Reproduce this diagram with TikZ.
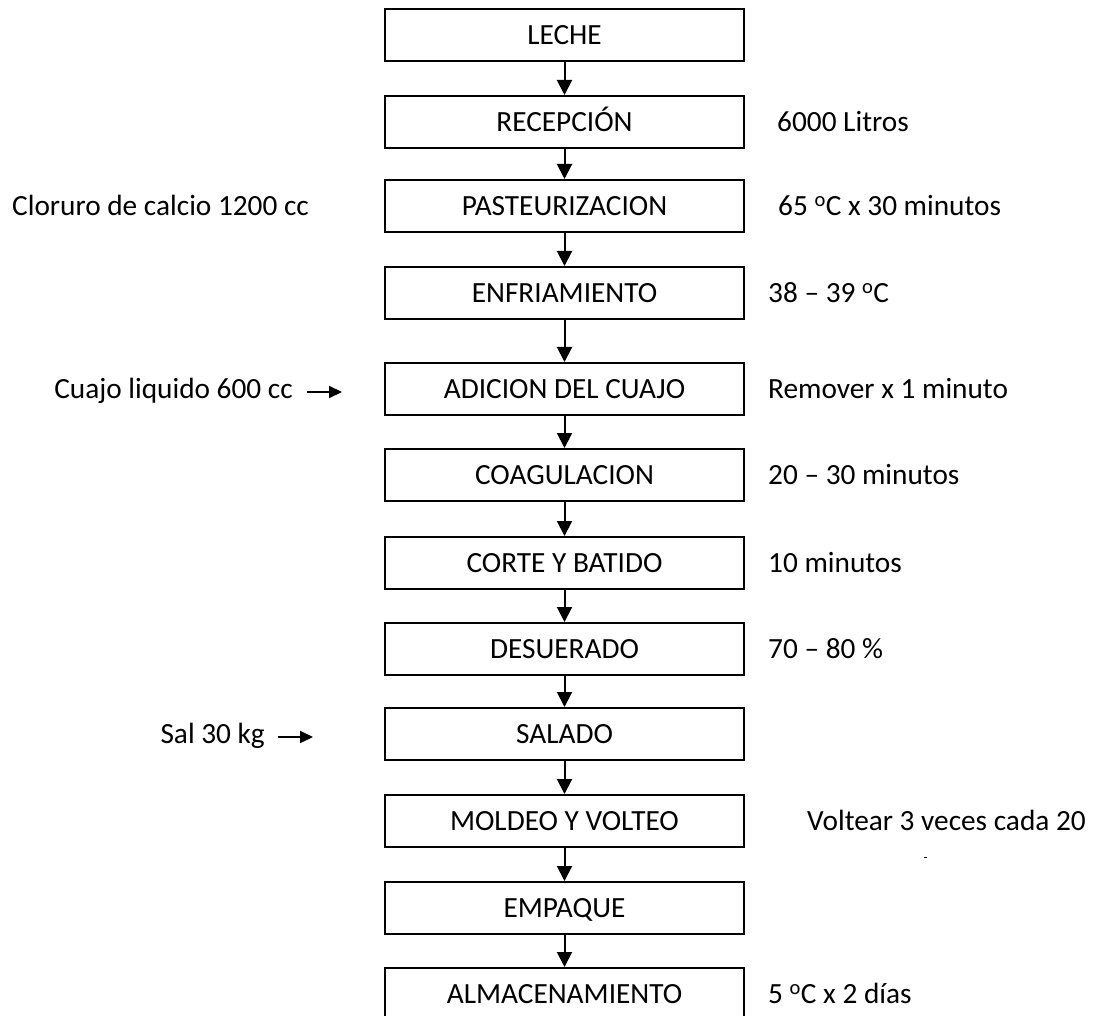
\documentclass[tikz,border=0pt]{standalone}
\usepackage{fontspec}
\setmainfont{Carlito}
\usetikzlibrary{arrows.meta}
\tikzset{
  x=1pt,y=-1pt,
  every node/.style={font=\fontsize{29.3}{34}\selectfont, text height=18.9pt, text depth=0pt, inner sep=0pt},
  stepbox/.style={draw, line width=2pt, minimum width=359pt, minimum height=52pt, anchor=center},
  sidelabel/.style={anchor=west},
  leftlabel/.style={anchor=east},
  flow/.style={line width=2pt, -{Triangle[width=15pt,length=15pt]}},
  feed/.style={line width=2pt, -{Triangle[width=12pt,length=13pt]}}
}
\begin{document}
\begin{tikzpicture}
\useasboundingbox (0,0) rectangle (1093,1016);
\clip (0,0) rectangle (1093,1016);
% main boxes
\node[stepbox] (b1)  at (564.5,35)  {LECHE};
\node[stepbox] (b2)  at (564.5,122) {RECEPCIÓN};
\node[stepbox] (b3)  at (564.5,206) {PASTEURIZACION};
\node[stepbox] (b4)  at (564.5,293) {ENFRIAMIENTO};
\node[stepbox] (b5)  at (564.5,389) {ADICION DEL CUAJO};
\node[stepbox] (b6)  at (564.5,475) {COAGULACION};
\node[stepbox] (b7)  at (564.5,563) {CORTE Y BATIDO};
\node[stepbox] (b8)  at (564.5,649) {DESUERADO};
\node[stepbox] (b9)  at (564.5,734) {SALADO};
\node[stepbox] (b10) at (564.5,821) {MOLDEO Y VOLTEO};
\node[stepbox] (b11) at (564.5,908) {EMPAQUE};
\node[stepbox] (b12) at (564.5,994) {ALMACENAMIENTO};
% vertical arrows
\foreach \a/\b in {b1/b2,b2/b3,b3/b4,b4/b5,b5/b6,b6/b7,b7/b8,b8/b9,b9/b10,b10/b11,b11/b12}
  \draw[flow] (\a.south) -- (\b.north);
% right labels
\node[sidelabel] (r2)  at (777,122) {6000 Litros};
\node[sidelabel] (r3)  at (778,206) {65 \textsuperscript{o}C x 30 minutos};
\node[sidelabel] (r4)  at (768,293) {38 – 39 \textsuperscript{o}C};
\node[sidelabel] (r5)  at (768,389) {Remover x 1 minuto};
\node[sidelabel] (r6)  at (768,475) {20 – 30 minutos};
\node[sidelabel] (r7)  at (768,563) {10 minutos};
\node[sidelabel] (r8)  at (768,649) {70 – 80 \%};
\node[sidelabel] (r10) at (807,821) {Voltear 3 veces cada 20};
\node[sidelabel] (r12) at (768,994) {5 \textsuperscript{o}C x 2 días};
\draw[line width=0.8pt] (924,857) -- (927,857);
% left labels
\node[sidelabel] (l3) at (12,206) {Cloruro de calcio 1200 cc};
\node[leftlabel] (l5) at (293,389) {Cuajo liquido 600 cc};
\node[leftlabel] (l9) at (265,734) {Sal 30 kg};
\coordinate (a5s) at (307,392);
\coordinate (a5e) at (342,392);
\coordinate (a9s) at (278,737);
\coordinate (a9e) at (313,737);
\draw[feed] (a5s) -- (a5e);
\draw[feed] (a9s) -- (a9e);
\end{tikzpicture}
\end{document}
